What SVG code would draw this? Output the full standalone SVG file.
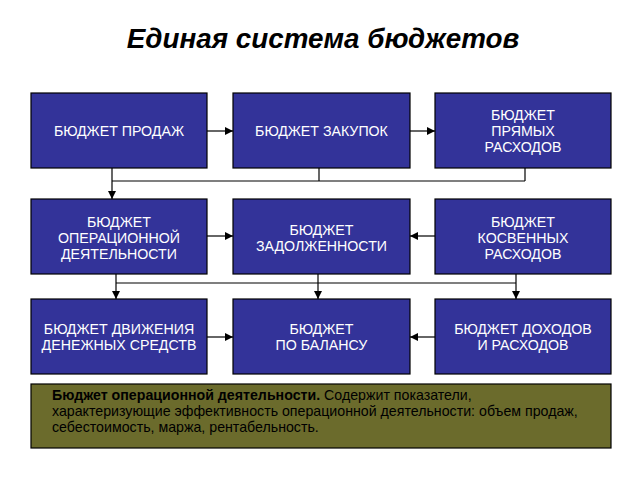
<svg xmlns="http://www.w3.org/2000/svg" width="638" height="479" viewBox="0 0 638 479">
<defs>
<marker id="ah" viewBox="0 0 10 10" refX="10" refY="5" markerWidth="8" markerHeight="8" markerUnits="userSpaceOnUse" orient="auto">
<path d="M0,0 L10,5 L0,10 z" fill="#000"/>
</marker>
<style>
.box{fill:#333399;stroke:#000;stroke-width:1.2}
.bt{font-family:"Liberation Sans",Arial,sans-serif;font-size:14.2px;fill:#fff;text-anchor:middle}
.ln{fill:none;stroke:#000;stroke-width:1.2}
.ar{marker-end:url(#ah)}
.note{fill:#6B6B2C;stroke:#000;stroke-width:1.2}
.nt{font-family:"Liberation Sans",Arial,sans-serif;font-size:14.2px;fill:#000}
</style>
</defs>
<rect width="638" height="479" fill="#fff"/>
<text x="323" y="48" font-family="Liberation Sans,Arial,sans-serif" font-size="27.8" font-weight="bold" font-style="italic" text-anchor="middle" fill="#000">Единая система бюджетов</text>

<g id="connectors">
<line class="ln ar" x1="207" y1="131" x2="233" y2="131"/>
<line class="ln ar" x1="410" y1="131" x2="435" y2="131"/>
<line class="ln ar" x1="112" y1="168" x2="112" y2="199"/>
<polyline class="ln" points="112,181 525,181"/>
<line class="ln" x1="319" y1="168" x2="319" y2="181"/>
<line class="ln" x1="525" y1="168" x2="525" y2="181"/>
<line class="ln ar" x1="207" y1="236" x2="233" y2="236"/>
<line class="ln ar" x1="435" y1="236" x2="410" y2="236"/>
<line class="ln" x1="116" y1="283" x2="516" y2="283"/>
<line class="ln ar" x1="116" y1="274" x2="116" y2="299"/>
<line class="ln ar" x1="318" y1="274" x2="318" y2="299"/>
<line class="ln ar" x1="516" y1="274" x2="516" y2="299"/>
<line class="ln ar" x1="207" y1="337" x2="233" y2="337"/>
<line class="ln ar" x1="435" y1="337" x2="410" y2="337"/>
</g>

<g id="n1"><rect class="box" x="31" y="93" width="176" height="75"/>
<text class="bt" x="119" y="136">БЮДЖЕТ ПРОДАЖ</text></g>
<g id="n2"><rect class="box" x="233" y="93" width="177" height="75"/>
<text class="bt" x="321.5" y="136">БЮДЖЕТ ЗАКУПОК</text></g>
<g id="n3"><rect class="box" x="435" y="93" width="176" height="75"/>
<text class="bt" x="523" y="120">БЮДЖЕТ</text>
<text class="bt" x="523" y="136">ПРЯМЫХ</text>
<text class="bt" x="523" y="152">РАСХОДОВ</text></g>

<g id="n4"><rect class="box" x="31" y="199" width="176" height="75"/>
<text class="bt" x="119" y="227">БЮДЖЕТ</text>
<text class="bt" x="119" y="243">ОПЕРАЦИОННОЙ</text>
<text class="bt" x="119" y="259">ДЕЯТЕЛЬНОСТИ</text></g>
<g id="n5"><rect class="box" x="233" y="199" width="177" height="75"/>
<text class="bt" x="321.5" y="235">БЮДЖЕТ</text>
<text class="bt" x="321.5" y="251">ЗАДОЛЖЕННОСТИ</text></g>
<g id="n6"><rect class="box" x="435" y="199" width="176" height="75"/>
<text class="bt" x="523" y="227">БЮДЖЕТ</text>
<text class="bt" x="523" y="243">КОСВЕННЫХ</text>
<text class="bt" x="523" y="259">РАСХОДОВ</text></g>

<g id="n7"><rect class="box" x="31" y="299" width="176" height="75"/>
<text class="bt" x="119" y="334">БЮДЖЕТ ДВИЖЕНИЯ</text>
<text class="bt" x="119" y="350">ДЕНЕЖНЫХ СРЕДСТВ</text></g>
<g id="n8"><rect class="box" x="233" y="299" width="177" height="75"/>
<text class="bt" x="321.5" y="334">БЮДЖЕТ</text>
<text class="bt" x="321.5" y="350">ПО БАЛАНСУ</text></g>
<g id="n9"><rect class="box" x="435" y="299" width="176" height="75"/>
<text class="bt" x="523" y="334">БЮДЖЕТ ДОХОДОВ</text>
<text class="bt" x="523" y="350">И РАСХОДОВ</text></g>

<g id="note"><rect class="note" x="31" y="384" width="580" height="64"/>
<text class="nt" x="52" y="400"><tspan font-weight="bold">Бюджет операционной деятельности.</tspan> Содержит показатели,</text>
<text class="nt" x="52" y="416">характеризующие эффективность операционной деятельности: объем продаж,</text>
<text class="nt" x="52" y="432">себестоимость, маржа, рентабельность.</text></g>
</svg>
